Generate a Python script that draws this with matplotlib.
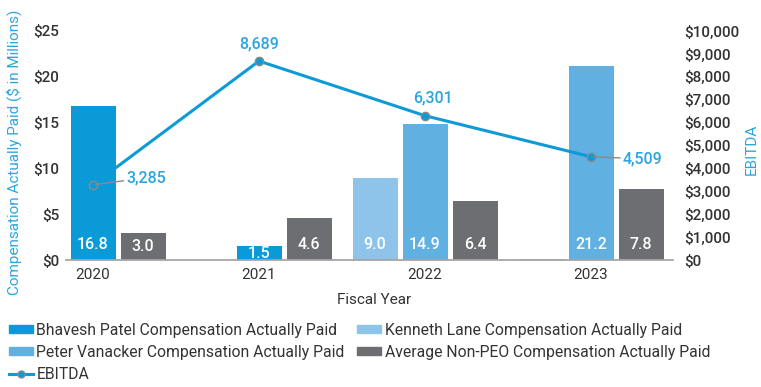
import matplotlib as mpl
import matplotlib.pyplot as plt
from matplotlib.patches import Patch
from matplotlib.lines import Line2D
import numpy as np

mpl.rcParams['font.family'] = ['Roboto', 'DejaVu Sans']

years = ['2020', '2021', '2022', '2023']
bhavesh = [16.8, 1.5, None, None]
kenneth = [None, None, 9.0, 0.0]
peter = [None, None, 14.9, 21.2]
avg_neo = [3.0, 4.6, 6.4, 7.8]
ebitda = [3285, 8689, 6301, 4509]

c_bhavesh = '#0a9ad8'
c_kenneth = '#8fc4ea'
c_peter = '#60b0e1'
c_avg = '#6d6e72'
c_line = '#0d9ad6'
c_label = '#2aa6df'
c_text = '#333333'

fig = plt.figure(figsize=(7.61, 3.87), dpi=100)
ax = fig.add_axes([66 / 761, 127 / 387, 607 / 761, 229 / 387])
ax2 = ax.twinx()

x = np.arange(len(years))
pitch = 50 / 166
width = 45 / 166

# slot -1: Kenneth, slot 0: current PEO (Bhavesh / Peter), slot +1: non-PEO average
series = [(bhavesh, 0, c_bhavesh), (kenneth, -1, c_kenneth),
          (peter, 0, c_peter), (avg_neo, 1, c_avg)]
for vals, slot, color in series:
    for i, v in enumerate(vals):
        if v is None:
            continue
        xi = x[i] + slot * pitch
        if v == 0:
            ax.bar(xi, v, width, color=color, edgecolor='#9a9a9a', linewidth=1.2, zorder=2)
            continue
        ax.bar(xi, v, width, color=color, zorder=2)
        ax.text(xi, min(v / 2, 1.64), f'{v:.1f}', ha='center', va='center',
                color='white', fontsize=11.5, fontweight='medium', zorder=3)

ax.set_xlim(-27 / 166, 580 / 166)
ax.set_ylim(0, 25)
ax.set_yticks(range(0, 26, 5))
ax.set_yticklabels([f'${v}' for v in range(0, 26, 5)])
ax.set_xticks(x)
ax.set_xticklabels(years)
ax.tick_params(axis='both', length=0, labelsize=11, colors=c_text)
ax.tick_params(axis='y', pad=5)
ax.tick_params(axis='x', pad=6)
for lab in ax.get_yticklabels():
    lab.set_fontweight('medium')

ax2.set_ylim(0, 10000)
ax2.set_yticks(range(0, 10001, 1000))
ax2.set_yticklabels([f'${v:,}' for v in range(0, 10001, 1000)])
ax2.tick_params(axis='y', length=0, labelsize=11, colors=c_text, pad=8)
for lab in ax2.get_yticklabels():
    lab.set_fontweight('medium')

for a in (ax, ax2):
    for s in a.spines.values():
        s.set_visible(False)
ax.spines['bottom'].set_visible(True)
ax.spines['bottom'].set_color('#a6a6a6')
ax.spines['bottom'].set_linewidth(1.3)

ax.set_zorder(ax2.get_zorder() + 1)
ax.patch.set_visible(False)
ax.plot(x, np.array(ebitda) / 400, color=c_line, lw=2.2, marker='o', ms=6,
        mfc=c_line, mec='#8a8a8a', mew=1, zorder=4)

# EBITDA data labels
lbl = dict(color=c_label, fontsize=11.5, fontweight='medium', zorder=5)
leader = dict(arrowstyle='-', color='#8a8a8a', lw=1, shrinkA=0, shrinkB=2)
ax.annotate(f'{ebitda[0]:,}', (x[0], ebitda[0] / 400), xytext=(24, 5),
            textcoords='offset points', ha='left', va='center', arrowprops=leader, **lbl)
ax.annotate(f'{ebitda[1]:,}', (x[1], ebitda[1] / 400), xytext=(0, 12),
            textcoords='offset points', ha='center', va='center', **lbl)
ax.annotate(f'{ebitda[2]:,}', (x[2], ebitda[2] / 400), xytext=(6, 13),
            textcoords='offset points', ha='center', va='center', **lbl)
ax.annotate(f'{ebitda[3]:,}', (x[3], ebitda[3] / 400), xytext=(23, -1.5),
            textcoords='offset points', ha='left', va='center', arrowprops=leader, **lbl)

fig.text(14 / 761, 1 - 152 / 387, 'Compensation Actually Paid ($ in Millions)',
         rotation=90, ha='center', va='center', color=c_label, fontsize=11)
fig.text(752 / 761, 1 - 149 / 387, 'EBITDA', rotation=90, ha='center', va='center',
         color=c_label, fontsize=11)
fig.text(374 / 761, 1 - 300 / 387, 'Fiscal Year', ha='center', va='center',
         color=c_text, fontsize=11)

handles = [
    Patch(color=c_bhavesh, label='Bhavesh Patel Compensation Actually Paid'),
    Patch(color=c_peter, label='Peter Vanacker Compensation Actually Paid'),
    Line2D([], [], color=c_line, lw=2.2, marker='o', ms=5, mfc=c_line,
           mec='#8a8a8a', label='EBITDA'),
    Patch(color=c_kenneth, label='Kenneth Lane Compensation Actually Paid'),
    Patch(color=c_avg, label='Average Non-PEO Compensation Actually Paid'),
]
leg = fig.legend(handles=handles, ncol=2, loc='upper left',
                 bbox_to_anchor=(9 / 761, 1 - 323 / 387), frameon=False,
                 fontsize=11.3, handlelength=1.5, handleheight=0.4,
                 handletextpad=0.25, columnspacing=0.8, labelspacing=0.45,
                 borderpad=0, borderaxespad=0)
for t in leg.get_texts():
    t.set_color(c_text)

fig.savefig('out.png', dpi=100)
